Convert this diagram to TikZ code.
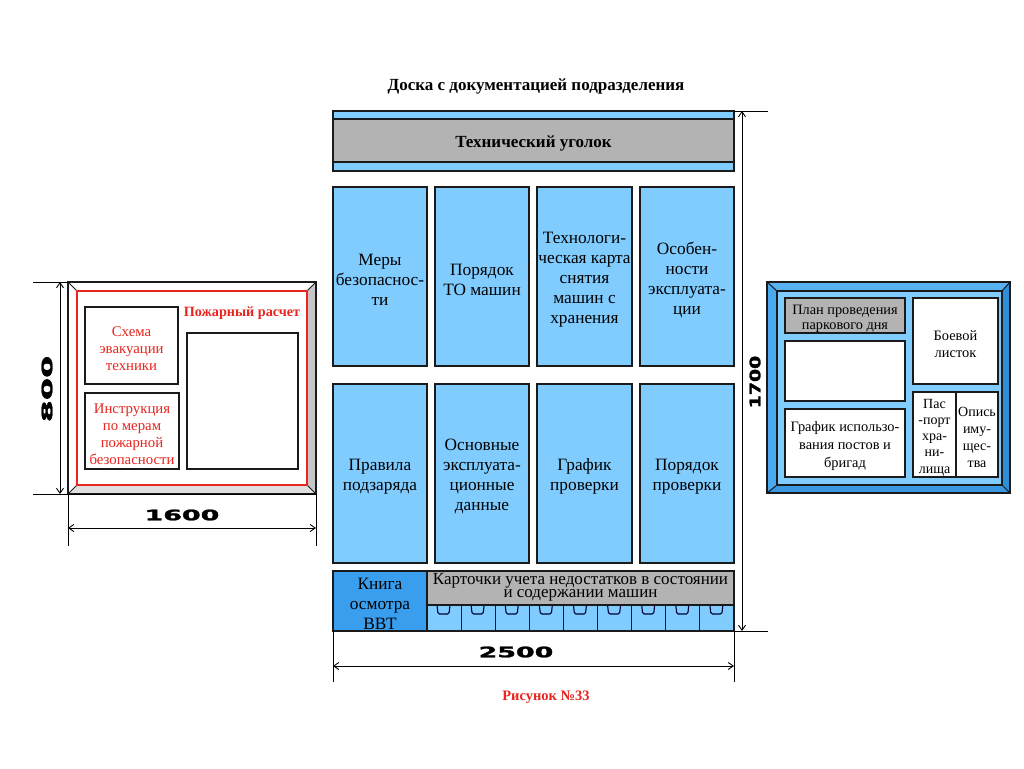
\documentclass[tikz,border=0pt]{standalone}
\usepackage{fontspec}
\setmainfont{Liberation Serif}
\newfontfamily\dimfont{DejaVu Sans}[BoldFeatures={FakeBold=1.6}]
\usetikzlibrary{arrows.meta}
\definecolor{lb}{HTML}{80CCFF}
\definecolor{gr}{HTML}{B3B3B3}
\definecolor{db}{HTML}{3A9EEE}
\definecolor{rd}{HTML}{E8251F}
\definecolor{bvA}{HTML}{58B2F0}
\definecolor{bvB}{HTML}{4AA8EC}
\definecolor{bvC}{HTML}{2F8ED8}
\definecolor{bvD}{HTML}{3A98E0}
\definecolor{lnc}{HTML}{1A1A1A}
% #1 name, #2-#5 x1 y1 x2 y2, #6 box style, #7 text style, #8 text
\newcommand{\mybox}[8]{%
  \node[bx,#6,minimum width=#4pt-#2pt,minimum height=#5pt-#3pt] (#1) at (#2,#3) {};
  \node[tx,#7] (#1-t) at ([yshift=-3pt]#1.center) {#8};}
\tikzset{
  bx/.style={draw=lnc,line width=1.3pt,inner sep=0pt,outer sep=0pt,anchor=north west},
  tx/.style={inner sep=0pt,align=center},
  big/.style={font=\fontsize{17.3}{20}\selectfont},
  redtxt/.style={text=rd,font=\fontsize{14.8}{17}\selectfont},
  rtxt/.style={font=\fontsize{14.4}{18}\selectfont},
  dimline/.style={line width=0.9pt,black},
  dimarrow/.style={line width=0.9pt,black,{Straight Barb[length=5pt,width=7pt]}-{Straight Barb[length=5pt,width=7pt]}},
  dimlabel/.style={font=\dimfont\bfseries\fontsize{14.5}{15}\selectfont,inner sep=0pt}
}
\begin{document}
\begin{tikzpicture}[x=1pt,y=-1pt]
\useasboundingbox (0,0) rectangle (1024,768);
\fill[white] (0,0) rectangle (1024,768);

% ---------- title
\node[font=\bfseries\fontsize{17}{20}\selectfont] (title) at (536,86) {Доска с документацией подразделения};
\node[font=\bfseries\fontsize{14.5}{17}\selectfont,text=rd] (fig) at (546,697) {Рисунок №33};

% ---------- left board
\fill[white] (68,282) -- (316,282) -- (307,291) -- (77,291) -- cycle;
\fill[white] (68,282) -- (77,291) -- (77,485) -- (68,494) -- cycle;
\fill[black!22] (316,282) -- (316,494) -- (307,485) -- (307,291) -- cycle;
\fill[black!12] (68,494) -- (316,494) -- (307,485) -- (77,485) -- cycle;
\draw[lnc,line width=1.2pt] (68,282) rectangle (316,494);
\draw[lnc,line width=1pt] (68,282) -- (77,291) (316,282) -- (307,291) (316,494) -- (307,485) (68,494) -- (77,485);
\draw[rd,line width=2pt,fill=white] (77,291) rectangle (307,485);
\mybox{schema}{85}{307}{178}{384}{fill=white}{redtxt}{Схема\\эвакуации\\техники}
\mybox{instr}{85}{393}{179}{469}{fill=white}{redtxt}{Инструкция\\по мерам\\пожарной\\безопасности}
\mybox{calc}{187}{333}{298}{469}{fill=white}{}{}
\node[text=rd,font=\bfseries\fontsize{14.2}{16}\selectfont] (calct) at (242,313) {Пожарный расчет};

% left dimensions
\coordinate (lt1) at (33,282); \coordinate (lt2) at (68,282);
\coordinate (lb1) at (33,494); \coordinate (lb2) at (316,494);
\draw[dimline] (lt1) -- (lt2) (lb1) -- (lb2);
\coordinate (lv1) at (68,494); \coordinate (lv1e) at (68,546);
\coordinate (lv2) at (316,494); \coordinate (lv2e) at (316,546);
\draw[dimline] (lv1) -- (lv1e) (lv2) -- (lv2e);
\coordinate (a800t) at (60,282); \coordinate (a800b) at (60,494);
\draw[dimarrow] (a800t) -- (a800b);
\coordinate (a1600l) at (68,528); \coordinate (a1600r) at (316,528);
\draw[dimarrow] (a1600l) -- (a1600r);
\node[dimlabel,rotate=90] (d800) at (47,389) {\scalebox{2.2}[1]{800}};
\node[dimlabel] (d1600) at (182,515) {\scalebox{1.85}[1]{1600}};

% ---------- center board
\mybox{topbar}{333}{111}{734}{171}{fill=lb}{}{}
\mybox{tech}{333}{119}{734}{162}{fill=gr}{font=\bfseries\fontsize{17}{19}\selectfont}{Технический уголок}

\mybox{c11}{333}{187}{427}{366}{fill=lb}{big}{Меры\\безопаснос-\\ти}
\mybox{c12}{435}{187}{529}{366}{fill=lb}{big}{Порядок\\ТО машин}
\mybox{c13}{537}{187}{632}{366}{fill=lb}{big}{Технологи-\\ческая карта\\снятия\\машин с\\хранения}
\mybox{c14}{640}{187}{734}{366}{fill=lb}{big}{Особен-\\ности\\эксплуата-\\ции}
\mybox{c21}{333}{384}{427}{563}{fill=lb}{big}{Правила\\подзаряда}
\mybox{c22}{435}{384}{529}{563}{fill=lb}{big}{Основные\\эксплуата-\\ционные\\данные}
\mybox{c23}{537}{384}{632}{563}{fill=lb}{big}{График\\проверки}
\mybox{c24}{640}{384}{734}{563}{fill=lb}{big}{Порядок\\проверки}

\mybox{book}{333}{571}{427}{631}{fill=db}{big}{Книга\\осмотра\\ВВТ}
\mybox{pockets}{427}{605}{734}{631}{fill=lb}{}{}
\foreach \i in {1,...,8}{
  \pgfmathsetmacro\xx{427+\i*34.111}
  \draw[lnc,line width=1.1pt] (\xx,605) -- (\xx,631);
}
\foreach \i in {0,...,8}{
  \pgfmathsetmacro\xx{427+\i*34.111}
  \draw[black!80!blue,line width=1.1pt,rounded corners=1.5pt] (\xx+10,605) -- (\xx+11,614) -- (\xx+22,614) -- (\xx+23,605);
}
\node[bx,fill=gr,minimum width=307pt,minimum height=34pt] (cards) at (427,571) {};
\node[tx,font=\fontsize{17}{11}\selectfont] (cards-t) at ([yshift=1pt]cards.center) {Карточки учета недостатков в состоянии\\и содержании машин};

% center dimensions
\coordinate (rt1) at (734,111); \coordinate (rt2) at (768,111);
\coordinate (rb1) at (734,631); \coordinate (rb2) at (768,631);
\draw[dimline] (rt1) -- (rt2) (rb1) -- (rb2);
\coordinate (a1700t) at (742,111); \coordinate (a1700b) at (742,631);
\draw[dimarrow] (a1700t) -- (a1700b);
\node[dimlabel,rotate=90] (d1700) at (755,382) {\scalebox{1.3}[1]{1700}};
\coordinate (bv1) at (333,631); \coordinate (bv1e) at (333,682);
\coordinate (bv2) at (734,631); \coordinate (bv2e) at (734,682);
\draw[dimline] (bv1) -- (bv1e) (bv2) -- (bv2e);
\coordinate (a2500l) at (333,666); \coordinate (a2500r) at (734,666);
\draw[dimarrow] (a2500l) -- (a2500r);
\node[dimlabel] (d2500) at (516,652) {\scalebox{1.85}[1]{2500}};

% ---------- right board
\fill[lb] (777,291) rectangle (1002,485);
\fill[bvA] (767,282) -- (1010,282) -- (1002,291) -- (777,291) -- cycle;
\fill[bvB] (767,282) -- (777,291) -- (777,485) -- (767,493) -- cycle;
\fill[bvC] (1010,282) -- (1010,493) -- (1002,485) -- (1002,291) -- cycle;
\fill[bvD] (767,493) -- (1010,493) -- (1002,485) -- (777,485) -- cycle;
\draw[lnc,line width=1.2pt] (767,282) rectangle (1010,493);
\draw[lnc,line width=1.2pt] (777,291) rectangle (1002,485);
\draw[lnc,line width=1pt] (767,282) -- (777,291) (1010,282) -- (1002,291) (1010,493) -- (1002,485) (767,493) -- (777,485);
\mybox{plan}{785}{298}{905}{333}{fill=gr}{font=\fontsize{14.3}{15}\selectfont}{План проведения\\паркового дня}
\mybox{blank}{785}{341}{905}{401}{fill=white}{}{}
\mybox{graph}{785}{409}{905}{477}{fill=white}{rtxt}{График использо-\\вания постов и\\бригад}
\mybox{leaf}{913}{298}{998}{384}{fill=white}{font=\fontsize{14.4}{17}\selectfont}{Боевой\\листок}
\mybox{pass}{913}{392}{956}{477}{fill=white}{font=\fontsize{14}{16.3}\selectfont}{Пас\\-порт\\хра-\\ни-\\лища}
\mybox{inv}{956}{392}{998}{477}{fill=white}{font=\fontsize{14}{17}\selectfont}{Опись\\иму-\\щес-\\тва}
\end{tikzpicture}
\end{document}
